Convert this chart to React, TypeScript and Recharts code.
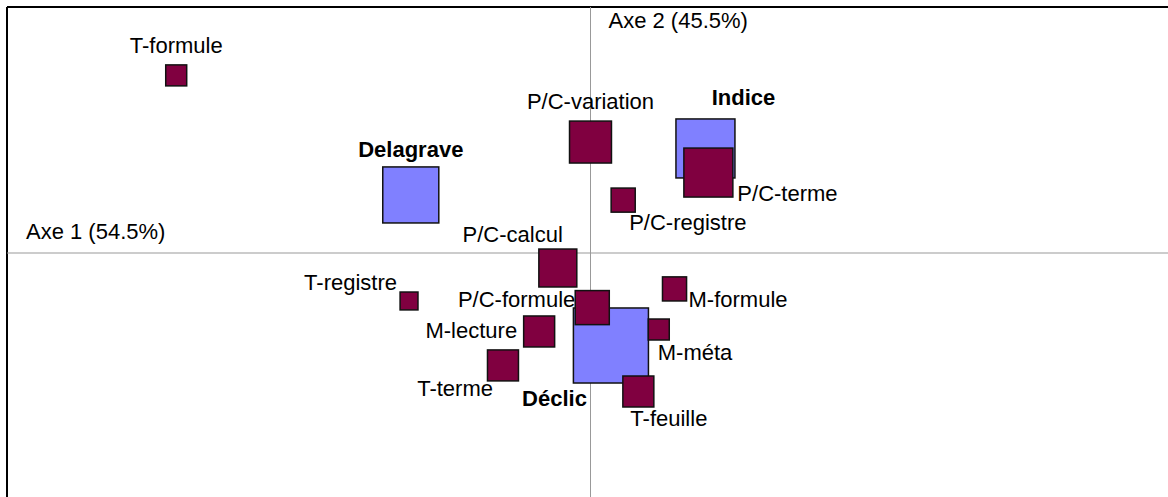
import { ScatterChart, Scatter, XAxis, YAxis, ZAxis, ReferenceLine } from 'recharts';

// factorial map: groups (manuals) and terms, axis 1 / axis 2 coordinates, weight -> square area
const groupNames = ['Delagrave', 'Indice', 'Déclic'];
const groupAxe1 = [-0.308, 0.197, 0.035];
const groupAxe2 = [0.236, 0.425, -0.376];
const groupWeight = [31.4, 34.8, 56.3];

const termNames = [
  'T-formule',
  'P/C-variation',
  'P/C-terme',
  'P/C-registre',
  'P/C-calcul',
  'T-registre',
  'P/C-formule',
  'M-formule',
  'M-méta',
  'M-lecture',
  'T-terme',
  'T-feuille',
];
const termAxe1 = [-0.71, 0.0, 0.202, 0.056, -0.056, -0.311, 0.003, 0.144, 0.117, -0.088, -0.15, 0.082];
const termAxe2 = [0.722, 0.451, 0.327, 0.215, -0.061, -0.195, -0.222, -0.146, -0.311, -0.319, -0.457, -0.563];
const termWeight = [4.4, 17.6, 24.0, 5.8, 14.4, 3.2, 11.6, 5.8, 4.4, 9.6, 9.6, 9.6];

const axisTitles = ['Axe 1 (54.5%)', 'Axe 2 (45.5%)'];

const groupData = groupNames.map((name, i) => ({ name, x: groupAxe1[i], y: groupAxe2[i], w: groupWeight[i] }));
const termData = termNames.map((name, i) => ({ name, x: termAxe1[i], y: termAxe2[i], w: termWeight[i] }));

// label placement relative to the square centre
const labelPlacement: Record<string, { dx: number; dy: number; anchor: 'start' | 'middle' | 'end' }> = {
  Delagrave: { dx: 0, dy: -38, anchor: 'middle' },
  Indice: { dx: 38, dy: -43, anchor: 'middle' },
  'Déclic': { dx: -24, dy: 61, anchor: 'end' },
  'T-formule': { dx: 0, dy: -22, anchor: 'middle' },
  'P/C-variation': { dx: 0, dy: -33, anchor: 'middle' },
  'P/C-terme': { dx: 29, dy: 28, anchor: 'start' },
  'P/C-registre': { dx: 6, dy: 30, anchor: 'start' },
  'P/C-calcul': { dx: 5, dy: -26, anchor: 'end' },
  'T-registre': { dx: -12, dy: -11, anchor: 'end' },
  'P/C-formule': { dx: -17, dy: -1, anchor: 'end' },
  'M-formule': { dx: 14, dy: 18, anchor: 'start' },
  'M-méta': { dx: -1, dy: 30, anchor: 'start' },
  'M-lecture': { dx: -22, dy: 7, anchor: 'end' },
  'T-terme': { dx: -10, dy: 31, anchor: 'end' },
  'T-feuille': { dx: -8, dy: 35, anchor: 'start' },
};

const FONT = '"Liberation Sans", Arial, sans-serif';

function Square(props: any) {
  const { cx, cy, size, width, fill, payload, bold } = props;
  const area = size != null ? size : Math.PI * (width / 2) * (width / 2);
  const s = Math.sqrt(Math.max(area, 0));
  const place = labelPlacement[payload.name] || { dx: 0, dy: -s / 2 - 10, anchor: 'middle' };
  return (
    <g>
      <rect x={cx - s / 2} y={cy - s / 2} width={s} height={s} fill={fill} stroke='#111' strokeWidth={1.5} />
      <text
        x={cx + place.dx}
        y={cy + place.dy}
        textAnchor={place.anchor}
        fontFamily={FONT}
        fontSize={22}
        fontWeight={bold ? 700 : 400}
        fill='#000'
      >
        {payload.name}
      </text>
    </g>
  );
}

function AxisTitle(props: any) {
  const { viewBox, text, dx, dy } = props;
  if (!viewBox) return null;
  return (
    <text x={viewBox.x + dx} y={viewBox.y + dy} fontFamily={FONT} fontSize={22} fill='#000' textAnchor='start'>
      {text}
    </text>
  );
}

export default function App() {
  return (
    <div style={{ position: 'absolute', left: 0, top: 0, width: 1168, height: 497, overflow: 'hidden', background: '#fff' }}>
      <ScatterChart width={1174} height={500} margin={{ top: 7, right: 0, bottom: 1, left: 7 }}>
        <XAxis type='number' dataKey='x' domain={[-1, 1]} hide />
        <YAxis type='number' dataKey='y' domain={[-1, 1]} hide />
        <ZAxis type='number' dataKey='w' domain={[0, 100]} range={[0, 10000]} />
        {/* plot frame: only the top and left edges fall inside the picture */}
        <ReferenceLine x={-1} stroke='#000' strokeWidth={2} />
        <ReferenceLine y={1} stroke='#000' strokeWidth={2} />
        <ReferenceLine y={0} stroke='#999' strokeWidth={1} label={<AxisTitle text={axisTitles[0]} dx={19} dy={-14} />} />
        <ReferenceLine x={0} stroke='#999' strokeWidth={1} label={<AxisTitle text={axisTitles[1]} dx={18} dy={21} />} />
        <Scatter data={groupData} fill='#8080ff' isAnimationActive={false} shape={(p: any) => <Square {...p} bold />} />
        <Scatter data={termData} fill='#800040' isAnimationActive={false} shape={(p: any) => <Square {...p} />} />
      </ScatterChart>
    </div>
  );
}
